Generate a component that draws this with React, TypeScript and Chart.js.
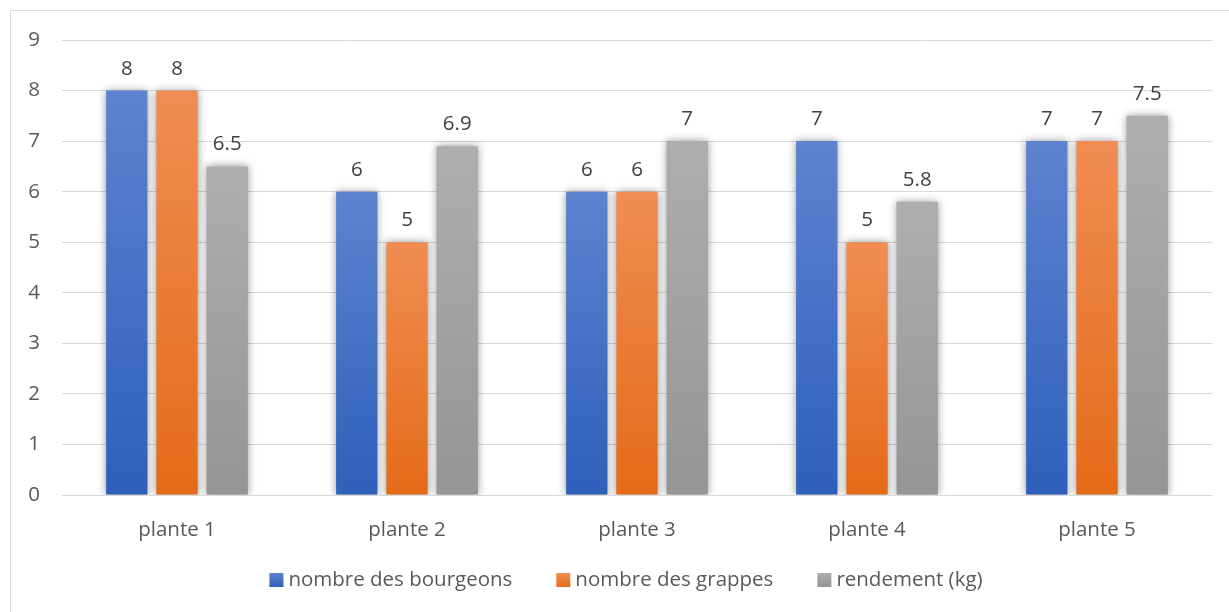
import React, { useEffect, useRef } from "react";
import { Chart, registerables } from "chart.js";

Chart.register(...registerables);

const categories = ["plante 1", "plante 2", "plante 3", "plante 4", "plante 5"];
const bourgeons = [8, 6, 6, 7, 7];
const grappes = [8, 5, 6, 5, 7];
const rendement = [6.5, 6.9, 7, 5.8, 7.5];
const seriesNames = ["nombre des bourgeons", "nombre des grappes", "rendement (kg)"];
const yTicks = [0, 1, 2, 3, 4, 5, 6, 7, 8, 9];

const FONT = "'Open Sans', 'DejaVu Sans', sans-serif";
const TEXT = "#595959";
const LABEL = "#404040";
const GRID = "#d9d9d9";

// top (light) and bottom (dark) stops of each series' fill
const palettes: [string, string][] = [
  ["#5d83cf", "#2e5fba"],
  ["#f18d53", "#e46b18"],
  ["#aeaeae", "#959595"],
];

function barGradient(palette: [string, string]) {
  return (ctx: any) => {
    const chart = ctx.chart;
    const y = chart.scales?.y;
    if (!chart.chartArea || !y || ctx.type !== "data") return palette[0];
    const top = y.getPixelForValue(ctx.raw);
    const base = y.getPixelForValue(0);
    const g = chart.ctx.createLinearGradient(0, top, 0, base);
    g.addColorStop(0, palette[0]);
    g.addColorStop(1, palette[1]);
    return g;
  };
}

const shadowPlugin = {
  id: "barShadow",
  beforeDatasetsDraw(chart: any) {
    const c = chart.ctx;
    c.save();
    c.shadowColor = "rgba(0,0,0,0.42)";
    c.shadowBlur = 8;
    c.shadowOffsetX = 0;
    c.shadowOffsetY = 0;
  },
  afterDatasetsDraw(chart: any) {
    chart.ctx.restore();
  },
};

const valueLabelPlugin = {
  id: "valueLabels",
  afterDatasetsDraw(chart: any) {
    const c = chart.ctx;
    c.save();
    c.font = `20.5px ${FONT}`;
    c.fillStyle = LABEL;
    c.textAlign = "center";
    c.textBaseline = "alphabetic";
    chart.data.datasets.forEach((ds: any, i: number) => {
      const meta = chart.getDatasetMeta(i);
      meta.data.forEach((el: any, j: number) => {
        c.fillText(String(ds.data[j]), el.x, el.y - 16);
      });
    });
    c.restore();
  },
};

const legendPlugin = {
  id: "bottomLegend",
  afterDraw(chart: any) {
    const c = chart.ctx;
    const box = 14;
    const gapText = 5;
    const gapItem = 44;
    c.save();
    c.font = `20.5px ${FONT}`;
    c.textBaseline = "middle";
    c.textAlign = "left";
    const widths = chart.data.datasets.map((ds: any) => c.measureText(ds.label).width);
    const total =
      widths.reduce((s: number, w: number) => s + w + box + gapText, 0) +
      gapItem * (widths.length - 1);
    const cy = 580;
    let x = (chart.chartArea.left + chart.chartArea.right) / 2 - 11 - total / 2;
    chart.data.datasets.forEach((ds: any, i: number) => {
      const g = c.createLinearGradient(0, cy - box / 2, 0, cy + box / 2);
      g.addColorStop(0, palettes[i][0]);
      g.addColorStop(1, palettes[i][1]);
      c.fillStyle = g;
      c.fillRect(x, cy - box / 2, box, box);
      x += box + gapText;
      c.fillStyle = TEXT;
      c.fillText(ds.label, x, cy);
      x += widths[i] + gapItem;
    });
    c.restore();
  },
};

export default function App() {
  const canvasRef = useRef<HTMLCanvasElement | null>(null);

  useEffect(() => {
    const canvas = canvasRef.current;
    if (!canvas) return;
    const seriesValues = [bourgeons, grappes, rendement];
    const chart = new Chart(canvas, {
      type: "bar",
      data: {
        labels: categories,
        datasets: seriesValues.map((values, i) => ({
          label: seriesNames[i],
          data: values,
          backgroundColor: barGradient(palettes[i]),
          borderWidth: 0,
          categoryPercentage: 0.655,
          barPercentage: 0.823,
        })),
      },
      options: {
        responsive: false,
        animation: false,
        devicePixelRatio: 1,
        layout: { padding: { left: 0, right: 17, top: 40, bottom: 47 } },
        plugins: {
          legend: { display: false },
          tooltip: { enabled: false },
        },
        scales: {
          x: {
            grid: { display: false },
            border: { display: false },
            ticks: {
              color: TEXT,
              font: { family: FONT, size: 20.5 },
              padding: 15,
            },
            afterFit: (scale: any) => {
              scale.height = 70;
            },
          },
          y: {
            min: 0,
            max: 9,
            afterBuildTicks: (scale: any) => {
              scale.ticks = yTicks.map((v) => ({ value: v }));
            },
            grid: { color: GRID, lineWidth: 1, drawTicks: false },
            border: { display: false },
            ticks: {
              color: TEXT,
              font: { family: FONT, size: 20.5 },
              padding: 22,
            },
            afterFit: (scale: any) => {
              scale.width = 62;
            },
          },
        },
      },
      plugins: [shadowPlugin, valueLabelPlugin, legendPlugin],
    });
    return () => chart.destroy();
  }, []);

  return (
    <div
      style={{
        position: "fixed",
        left: 0,
        top: 0,
        width: 1229,
        height: 612,
        overflow: "hidden",
        background: "#ffffff",
      }}
    >
      <div
        style={{
          position: "absolute",
          left: 10,
          top: 10,
          width: 1300,
          height: 700,
          border: `1px solid ${GRID}`,
        }}
      />
      <canvas
        ref={canvasRef}
        width={1229}
        height={612}
        style={{ position: "absolute", left: 0, top: 0 }}
      />
    </div>
  );
}
